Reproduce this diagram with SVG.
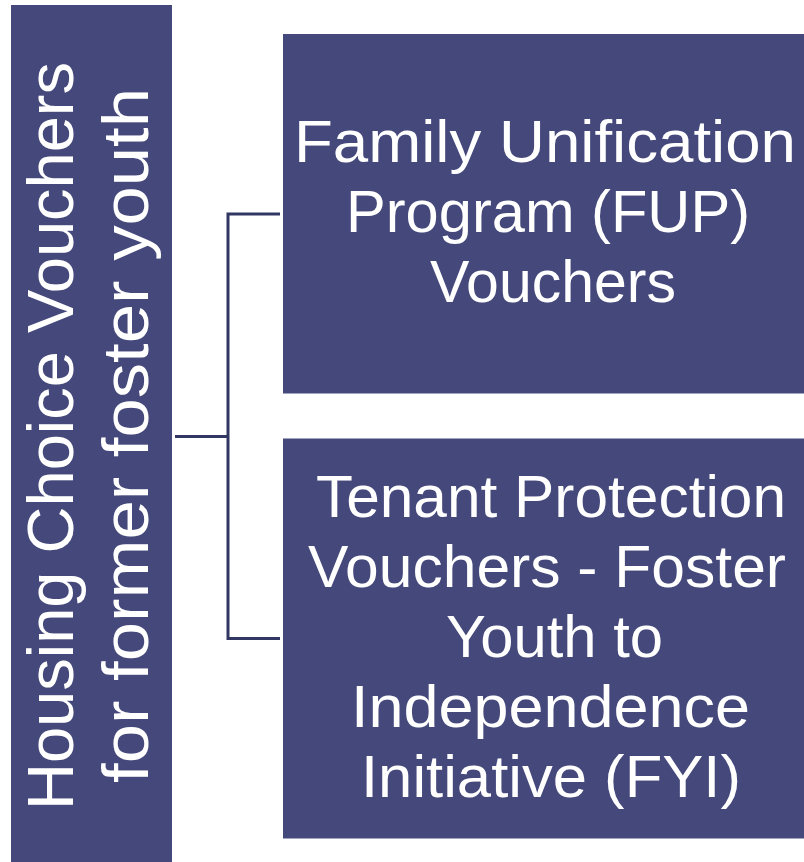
<svg xmlns="http://www.w3.org/2000/svg" width="804" height="862" viewBox="0 0 804 862">
  <style>
    .box { fill: #44487a; }
    .lbl { fill: #ffffff; font-family: "Liberation Sans", "DejaVu Sans", sans-serif; text-anchor: middle; }
    .big { font-size: 64px; }
    .mid { font-size: 59px; }
    .conn { fill: none; stroke: #313663; stroke-width: 3; }
  </style>
  <rect width="804" height="862" fill="#ffffff"/>
  <g id="connectors">
    <polyline class="conn" points="175,436.5 228,436.5"/>
    <polyline class="conn" points="280,214 228,214 228,638.5 280,638.5"/>
  </g>
  <g id="root">
    <rect class="box" x="11" y="5" width="161" height="857"/>
    <text class="lbl big" transform="translate(73,436) rotate(-90)" textLength="748" lengthAdjust="spacingAndGlyphs">Housing Choice Vouchers</text>
    <text class="lbl big" transform="translate(148,435.5) rotate(-90)" textLength="695" lengthAdjust="spacingAndGlyphs">for former foster youth</text>
  </g>
  <g id="fup">
    <rect class="box" x="283" y="34" width="521" height="359.5"/>
    <text class="lbl mid" x="545" y="162" textLength="502" lengthAdjust="spacingAndGlyphs">Family Unification</text>
    <text class="lbl mid" x="548" y="232" textLength="404" lengthAdjust="spacingAndGlyphs">Program (FUP)</text>
    <text class="lbl mid" x="553" y="302" textLength="246" lengthAdjust="spacingAndGlyphs">Vouchers</text>
  </g>
  <g id="fyi">
    <rect class="box" x="283" y="438.5" width="521" height="400"/>
    <text class="lbl mid" x="551" y="517" textLength="470" lengthAdjust="spacingAndGlyphs">Tenant Protection</text>
    <text class="lbl mid" x="547" y="587" textLength="478" lengthAdjust="spacingAndGlyphs">Vouchers - Foster</text>
    <text class="lbl mid" x="554.5" y="657" textLength="217" lengthAdjust="spacingAndGlyphs">Youth to</text>
    <text class="lbl mid" x="550.5" y="727" textLength="399" lengthAdjust="spacingAndGlyphs">Independence</text>
    <text class="lbl mid" x="551" y="797" textLength="380" lengthAdjust="spacingAndGlyphs">Initiative (FYI)</text>
  </g>
</svg>
